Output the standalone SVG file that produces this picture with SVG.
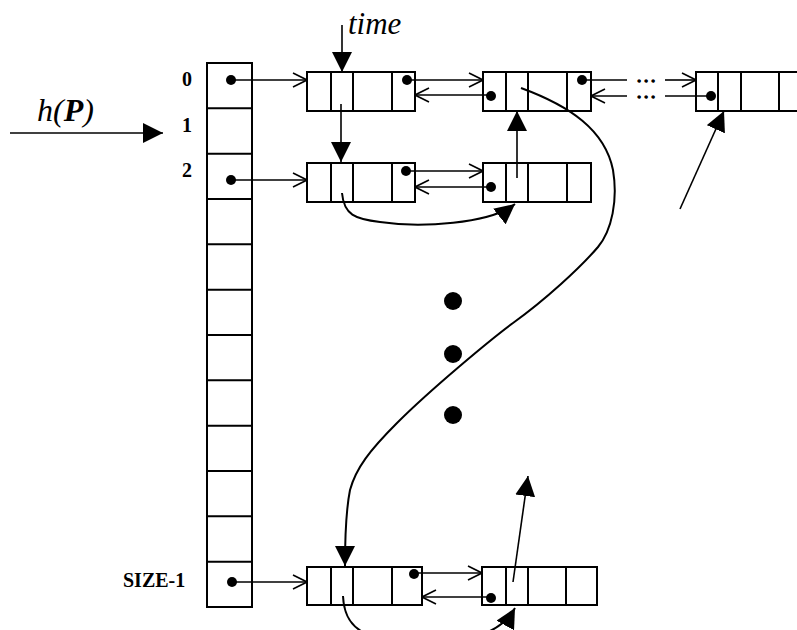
<svg xmlns="http://www.w3.org/2000/svg" width="797" height="630" viewBox="0 0 797 630">
<style>
  .box { fill: #fff; stroke: #000; stroke-width: 2; }
  .div { stroke: #000; stroke-width: 2; fill: none; }
  .ln { stroke: #000; stroke-width: 1.6; fill: none; }
  .crv { stroke: #000; stroke-width: 2; fill: none; }
  .dot { fill: #000; }
  .lbl { font-family: "Liberation Serif", "Times New Roman", serif; font-weight: bold; fill: #000; }
  .it { font-family: "Liberation Serif", "Times New Roman", serif; font-style: italic; fill: #000; }
  .ell { font-family: "Liberation Serif", "Times New Roman", serif; font-weight: bold; fill: #000; stroke: #000; stroke-width: 1.4; }
</style>
<defs>
  <marker id="open" viewBox="0 0 16 16" refX="15" refY="8" markerWidth="16" markerHeight="16" markerUnits="userSpaceOnUse" orient="auto">
    <path d="M1,1 L15,8 L1,15" fill="none" stroke="#000" stroke-width="1.6"/>
  </marker>
  <marker id="tri" viewBox="0 0 20 20" refX="20" refY="10" markerWidth="20" markerHeight="20" markerUnits="userSpaceOnUse" orient="auto">
    <path d="M0,0 L20,10 L0,20 Z" fill="#000"/>
  </marker>
</defs>
<rect width="797" height="630" fill="#fff"/>

<g id="hP">
  <text class="it" x="37" y="121" font-size="32">h(<tspan font-weight="bold">P</tspan>)</text>
</g>
<g id="time-label">
  <text class="it" x="348" y="34" font-size="31">time</text>
</g>

<g id="table">
  <rect class="box" x="207" y="63" width="45" height="544"/>
  <path class="div" d="M207,108.3H252M207,153.7H252M207,199H252M207,244.3H252M207,289.7H252M207,335H252M207,380.3H252M207,425.7H252M207,471H252M207,516.3H252M207,561.7H252"/>
  <text class="lbl" x="182" y="86" font-size="20">0</text>
  <text class="lbl" x="182" y="132" font-size="20">1</text>
  <text class="lbl" x="182" y="177" font-size="20">2</text>
  <text class="lbl" x="123" y="587" font-size="20">SIZE-1</text>
  <circle class="dot" cx="231" cy="80" r="5"/>
  <circle class="dot" cx="231" cy="180" r="5"/>
  <circle class="dot" cx="232" cy="582" r="5"/>
</g>

<g id="nodeA">
  <rect class="box" x="307" y="72" width="108" height="39"/>
  <path class="div" d="M331,72V111M353,72V111M392,72V111"/>
  <circle class="dot" cx="407" cy="80" r="5"/>
</g>
<g id="nodeB">
  <rect class="box" x="483" y="72" width="108" height="39"/>
  <path class="div" d="M506,72V111M528,72V111M567,72V111"/>
  <circle class="dot" cx="491" cy="96" r="5"/>
  <circle class="dot" cx="582" cy="80" r="5"/>
</g>
<g id="nodeC">
  <rect class="box" x="696" y="72" width="108" height="39"/>
  <path class="div" d="M718,72V111M741,72V111M779,72V111"/>
  <circle class="dot" cx="711" cy="96" r="5"/>
</g>
<g id="nodeD">
  <rect class="box" x="307" y="163" width="108" height="39"/>
  <path class="div" d="M331,163V202M353,163V202M392,163V202"/>
  <circle class="dot" cx="406" cy="171" r="5"/>
</g>
<g id="nodeE">
  <rect class="box" x="483" y="163" width="108" height="39"/>
  <path class="div" d="M506,163V202M528,163V202M567,163V202"/>
  <circle class="dot" cx="491" cy="187" r="5"/>
</g>
<g id="nodeF">
  <rect class="box" x="307" y="567" width="115" height="38"/>
  <path class="div" d="M331,567V605M353,567V605M392,567V605"/>
  <circle class="dot" cx="414" cy="574" r="5"/>
</g>
<g id="nodeG">
  <rect class="box" x="482" y="567" width="115" height="38"/>
  <path class="div" d="M506,567V605M528,567V605M566,567V605"/>
  <circle class="dot" cx="491" cy="598" r="5"/>
</g>

<g id="ellipsis">
  <circle class="dot" cx="453" cy="301" r="9"/>
  <circle class="dot" cx="453" cy="354" r="9"/>
  <circle class="dot" cx="453" cy="415" r="9"/>
  <text class="ell" x="637.5" y="82" font-size="13" letter-spacing="3.8">...</text>
  <text class="ell" x="637.5" y="98" font-size="13" letter-spacing="3.8">...</text>
</g>

<g id="connectors">
  <path class="ln" d="M10,133H163" marker-end="url(#tri)" stroke-width="2"/>
  <path class="ln" d="M342,25V72" marker-end="url(#tri)" stroke-width="2"/>
  <path class="ln" d="M231,80H307" marker-end="url(#open)"/>
  <path class="ln" d="M231,180H307" marker-end="url(#open)"/>
  <path class="ln" d="M232,582H307" marker-end="url(#open)"/>
  <path class="ln" d="M407,80H483" marker-end="url(#open)"/>
  <path class="ln" d="M491,95H415" marker-end="url(#open)"/>
  <path class="ln" d="M582,80H627"/>
  <path class="ln" d="M665,80H696" marker-end="url(#open)"/>
  <path class="ln" d="M711,96H665"/>
  <path class="ln" d="M627,96H591" marker-end="url(#open)"/>
  <path class="ln" d="M406,171H483" marker-end="url(#open)"/>
  <path class="ln" d="M491,187H415" marker-end="url(#open)"/>
  <path class="ln" d="M414,573H482" marker-end="url(#open)"/>
  <path class="ln" d="M491,597H422" marker-end="url(#open)"/>
  <path class="ln" d="M341,104V162" marker-end="url(#tri)" stroke-width="2"/>
  <path class="ln" d="M517,178V111" marker-end="url(#tri)" stroke-width="2"/>
  <path class="ln" d="M680,209L724,111" marker-end="url(#tri)" stroke-width="2"/>
  <path class="ln" d="M513,582L528,476" marker-end="url(#tri)" stroke-width="2"/>
  <path class="crv" d="M342,193 C344,215 355,219 380,222 C420,228 490,224 515,204" marker-end="url(#tri)"/>
  <path class="crv" d="M521,88 C570,106 605,130 613,170 C618,200 612,230 598,247 C580,268 545,300 513,323 C490,340 430,390 397,423 C370,450 356,468 350,490 C346,510 345,530 345,566" marker-end="url(#tri)"/>
  <path class="crv" d="M343,596 C345,640 380,640 430,640 C470,640 500,635 515,608" marker-end="url(#tri)"/>
</g>
</svg>
